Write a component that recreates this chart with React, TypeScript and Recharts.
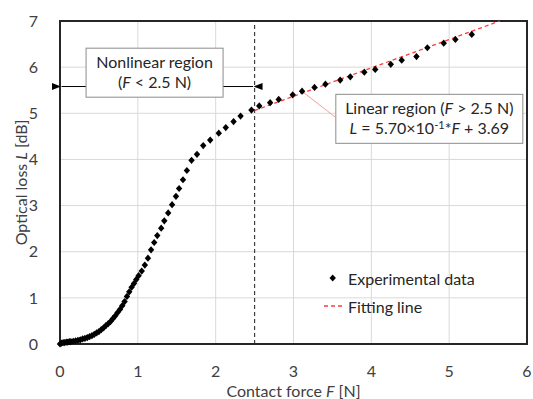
import {
  CartesianGrid,
  ComposedChart,
  Label,
  Legend,
  Line,
  ReferenceArea,
  ReferenceDot,
  ReferenceLine,
  Scatter,
  XAxis,
  YAxis,
} from "recharts"

const FONT = "Lato, 'Open Sans', sans-serif"
const TEXT = "#262626"
const TICK = "#404040"

// measured contact force [N] and optical loss [dB]
const forceN = [
  0.0, 0.02, 0.04, 0.06, 0.08, 0.1, 0.12, 0.14, 0.17, 0.2, 0.23, 0.26, 0.29, 0.32, 0.35, 0.38, 0.41, 0.44,
  0.47, 0.5, 0.53, 0.56, 0.59, 0.62, 0.65, 0.68, 0.71, 0.74, 0.77, 0.8, 0.83, 0.86, 0.89, 0.92, 0.95, 0.98,
  1.01, 1.05, 1.09, 1.13, 1.17, 1.21, 1.25, 1.3, 1.34, 1.39, 1.44, 1.49, 1.53, 1.58, 1.63, 1.69, 1.76, 1.84,
  1.93, 2.04, 2.13, 2.23, 2.32, 2.46, 2.56, 2.7, 2.81, 2.99, 3.11, 3.27, 3.41, 3.6, 3.73, 3.91, 4.05, 4.25,
  4.39, 4.58, 4.72, 4.93, 5.08, 5.29,
]
const lossDb = [
  0.0, 0.02, 0.03, 0.03, 0.04, 0.04, 0.05, 0.05, 0.06, 0.07, 0.08, 0.09, 0.11, 0.12, 0.14, 0.16, 0.18, 0.21,
  0.24, 0.27, 0.31, 0.35, 0.4, 0.44, 0.49, 0.55, 0.61, 0.68, 0.75, 0.83, 0.92, 1.03, 1.13, 1.23, 1.31, 1.4,
  1.48, 1.58, 1.71, 1.86, 2.04, 2.2, 2.35, 2.51, 2.67, 2.84, 3.02, 3.2, 3.37, 3.56, 3.76, 3.98, 4.11, 4.3,
  4.42, 4.57, 4.69, 4.82, 4.94, 5.07, 5.16, 5.23, 5.3, 5.4, 5.48, 5.56, 5.63, 5.72, 5.79, 5.89, 5.95, 6.06,
  6.15, 6.23, 6.42, 6.52, 6.6, 6.71,
]

// fitting line end points (linear region)
const fitForce = [2.5, 5.65]
const fitLoss = [5.06, 7.0]

const xTicks = [0, 1, 2, 3, 4, 5, 6]
const yTicks = [0, 1, 2, 3, 4, 5, 6, 7]

const measured = forceN.map((f, i) => ({ f, l: lossDb[i] }))
const fitted = fitForce.map((f, i) => ({ f, l: fitLoss[i] }))

function Diamond({ cx, cy }: { cx?: number; cy?: number }) {
  if (cx == null || cy == null) return null
  return <path d={`M${cx},${cy - 3.6}L${cx + 3.2},${cy}L${cx},${cy + 3.6}L${cx - 3.2},${cy}Z`} fill="#000" />
}

function NoteBox({ cx, cy, w, h, children }: { cx?: number; cy?: number; w: number; h: number; children: any }) {
  if (cx == null || cy == null) return null
  return (
    <g>
      <rect x={cx - w / 2} y={cy - h / 2} width={w} height={h} fill="#fff" stroke="#8c8c8c" strokeWidth={1} />
      <g transform={`translate(${cx},${cy})`} fontFamily={FONT} fontSize={16} fill={TEXT} textAnchor="middle">
        {children}
      </g>
    </g>
  )
}

function Arrowhead({ cx, cy, dir }: { cx?: number; cy?: number; dir: number }) {
  if (cx == null || cy == null) return null
  const tip = cx - dir
  return <path d={`M${tip},${cy}L${tip + dir * 9},${cy - 3.5}L${tip + dir * 9},${cy + 3.5}Z`} fill="#000" />
}

function renderLegend() {
  const row = { display: "flex", alignItems: "center", height: 28 }
  return (
    <div style={{ fontFamily: FONT, fontSize: 16, color: TEXT }}>
      <div style={row}>
        <svg width={28} height={12}>
          <Diamond cx={12.7} cy={6} />
        </svg>
        <span>Experimental data</span>
      </div>
      <div style={row}>
        <svg width={28} height={12}>
          <line x1={4} y1={6} x2={22} y2={6} stroke="#ff3b3b" strokeWidth={1.3} strokeDasharray="4 3" />
        </svg>
        <span>Fitting line</span>
      </div>
    </div>
  )
}

export default function App() {
  return (
    <div style={{ position: "absolute", left: 0, top: 0, background: "#fff" }}>
      <ComposedChart width={533} height={399} margin={{ top: 21, right: 6, bottom: 0, left: 0 }}>
        <CartesianGrid stroke="#d9d9d9" strokeWidth={1} />
        <XAxis
          type="number"
          dataKey="f"
          domain={[0, 6]}
          ticks={xTicks}
          height={55}
          tickLine={false}
          tickMargin={16}
          axisLine={{ stroke: "#262626", strokeWidth: 2 }}
          tick={{ fill: TICK, fontFamily: FONT, fontSize: 16 }}
        >
          <Label
            content={({ viewBox }: any) => (
              <text
                x={viewBox.x + viewBox.width / 2}
                y={viewBox.y + 53}
                textAnchor="middle"
                fontFamily={FONT}
                fontSize={16}
                fill={TICK}
              >
                Contact force <tspan fontStyle="italic">F</tspan> [N]
              </text>
            )}
          />
        </XAxis>
        <YAxis
          type="number"
          dataKey="l"
          domain={[0, 7]}
          ticks={yTicks}
          width={60}
          tickLine={false}
          tickMargin={16}
          axisLine={{ stroke: "#262626", strokeWidth: 2 }}
          tick={{ fill: TICK, fontFamily: FONT, fontSize: 16 }}
        >
          <Label
            content={({ viewBox }: any) => {
              const x = viewBox.x + 27
              const y = viewBox.y + viewBox.height / 2
              return (
                <text
                  x={x}
                  y={y}
                  transform={`rotate(-90, ${x}, ${y})`}
                  textAnchor="middle"
                  fontFamily={FONT}
                  fontSize={16}
                  fill={TICK}
                >
                  Optical loss <tspan fontStyle="italic">L</tspan> [dB]
                </text>
              )
            }}
          />
        </YAxis>
        <ReferenceArea x1={0} x2={6} y1={0} y2={7} fill="none" stroke="#262626" strokeWidth={2} />
        <ReferenceLine x={2.5} stroke="#404040" strokeWidth={1.2} strokeDasharray="4 3" />
        <Line
          data={fitted}
          dataKey="l"
          type="linear"
          stroke="#ff3b3b"
          strokeWidth={1.3}
          strokeDasharray="4 3"
          dot={false}
          activeDot={false}
          legendType="none"
          isAnimationActive={false}
        />
        <Scatter data={measured} dataKey="l" shape={(p: any) => <Diamond cx={p.cx} cy={p.cy} />} isAnimationActive={false} />
        <ReferenceLine
          segment={[
            { x: 0.02, y: 5.58 },
            { x: 0.334, y: 5.58 },
          ]}
          stroke="#000"
          strokeWidth={1}
        />
        <ReferenceLine
          segment={[
            { x: 2.095, y: 5.58 },
            { x: 2.48, y: 5.58 },
          ]}
          stroke="#000"
          strokeWidth={1}
        />
        <ReferenceDot x={0} y={5.58} shape={(p: any) => <Arrowhead cx={p.cx} cy={p.cy} dir={-1} />} />
        <ReferenceDot x={2.5} y={5.58} shape={(p: any) => <Arrowhead cx={p.cx} cy={p.cy} dir={1} />} />
        <ReferenceDot
          x={1.215}
          y={5.88}
          shape={(p: any) => (
            <NoteBox cx={p.cx} cy={p.cy} w={137} h={49}>
              <text y={-5}>Nonlinear region</text>
              <text y={15}>
                (<tspan fontStyle="italic">F</tspan> &lt; 2.5 N)
              </text>
            </NoteBox>
          )}
        />
        <ReferenceLine
          segment={[
            { x: 3.535, y: 4.92 },
            { x: 3.136, y: 5.44 },
          ]}
          stroke="#f4a0a0"
          strokeWidth={1}
        />
        <ReferenceDot
          x={4.745}
          y={4.88}
          shape={(p: any) => (
            <NoteBox cx={p.cx} cy={p.cy} w={187} h={49}>
              <text y={-5}>
                Linear region (<tspan fontStyle="italic">F</tspan> &gt; 2.5 N)
              </text>
              <text y={15}>
                <tspan fontStyle="italic">L</tspan> = 5.70×10
                <tspan dy={-5} fontSize={11}>
                  -1
                </tspan>
                <tspan dy={5}>*</tspan>
                <tspan fontStyle="italic">F</tspan> + 3.69
              </text>
            </NoteBox>
          )}
        />
        <Legend
          layout="horizontal"
          verticalAlign="middle"
          align="center"
          content={renderLegend}
          wrapperStyle={{ left: 320, top: 264, width: 200, height: 56 }}
        />
      </ComposedChart>
    </div>
  )
}
